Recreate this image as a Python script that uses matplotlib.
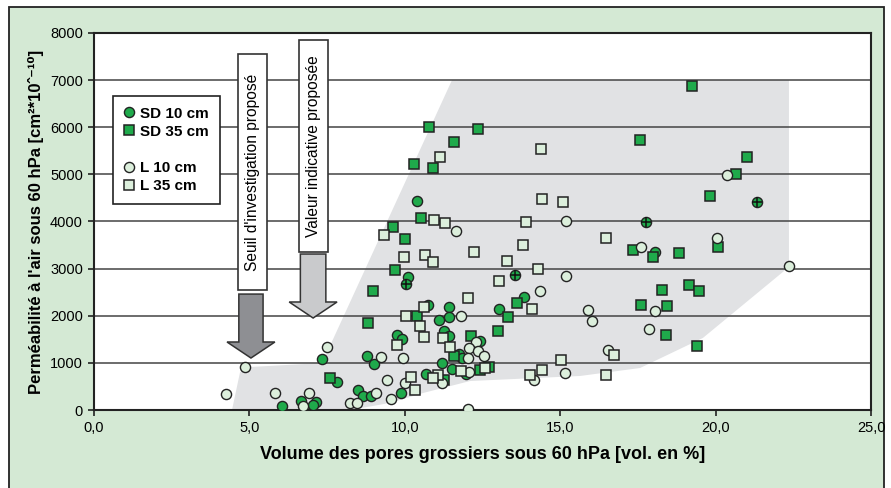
import matplotlib
matplotlib.use("Agg")
import matplotlib.pyplot as plt
import numpy as np
from matplotlib.lines import Line2D
from matplotlib.patches import Polygon, Rectangle

plt.rcParams['font.family'] = ['Liberation Sans', 'DejaVu Sans']

# --- data ---
sd10_x = [10.38, 10.09, 13.84, 18.06, 10.76, 13.03, 11.41, 11.41, 11.10, 9.76, 9.90, 11.27,
          11.41, 12.42, 11.74, 11.85, 11.19, 11.52, 11.97, 10.68, 9.87, 7.34, 8.77, 9.00,
          7.81, 8.49, 8.66, 8.91, 7.13, 7.04, 6.04, 6.66]
sd10_y = [4435, 2829, 2404, 3360, 2228, 2143, 2179, 1980, 1910, 1591, 1500, 1683,
          1577, 1464, 1182, 1110, 1004, 870, 757, 757, 354, 1089, 1146, 976,
          601, 424, 297, 297, 176, 113, 85, 198]

# green circles with a cross
sd10p_x = [10.04, 13.55, 17.75, 21.34]
sd10p_y = [2680, 2858, 3982, 4421]

sd35_x = [10.79, 12.34, 11.58, 10.30, 10.92, 10.53, 9.62, 10.01, 9.67, 8.97, 19.23, 17.56,
          21.01, 20.65, 19.81, 20.07, 17.34, 18.00, 18.81, 19.15, 19.45, 18.27, 17.61, 18.44,
          18.39, 19.39, 13.60, 13.31, 13.01, 10.38, 12.13, 11.59, 12.42, 12.71, 11.27, 8.81, 7.59]
sd35_y = [5999, 5963, 5680, 5227, 5142, 4081, 3883, 3636, 2971, 2525, 6869, 5736,
          5369, 5015, 4548, 3452, 3395, 3254, 3339, 2659, 2532, 2553, 2228, 2200,
          1598, 1365, 2264, 1980, 1676, 2001, 1577, 1146, 849, 919, 637, 1853, 686]

l10_x = [11.65, 14.35, 20.36, 15.18, 20.05, 17.59, 15.19, 22.35, 18.06, 15.91, 16.02, 17.85,
         16.53, 15.15, 14.17, 11.80, 9.93, 12.29, 12.07, 12.37, 12.54, 12.02, 12.08, 10.01,
         11.21, 9.55, 12.04, 7.51, 9.23, 9.44, 9.07, 8.25, 8.45, 6.92, 6.73, 4.87, 5.82, 4.25]
l10_y = [3805, 2532, 4994, 4003, 3650, 3466, 2851, 3063, 2108, 2115, 1882, 1712,
         1273, 785, 637, 2001, 1110, 1450, 1322, 1252, 1152, 1110, 813, 580,
         580, 226, 14, 1330, 1131, 637, 368, 155, 155, 354, 91, 906, 368, 340]

l35_x = [14.38, 11.12, 14.41, 10.93, 11.30, 13.90, 9.33, 13.80, 12.23, 9.96, 10.66, 10.90,
         13.29, 14.30, 13.02, 15.10, 16.46, 14.10, 16.73, 15.03, 14.41, 16.47, 14.03, 12.02,
         10.63, 10.03, 10.49, 10.63, 9.76, 11.22, 11.45, 11.81, 12.58, 10.19, 11.06, 10.92, 10.34]
l35_y = [5538, 5362, 4477, 4032, 3975, 3989, 3713, 3501, 3360, 3247, 3282, 3147,
         3162, 2999, 2737, 4420, 3643, 2143, 1161, 1068, 849, 750, 743, 2384,
         2186, 2001, 1782, 1556, 1386, 1534, 1330, 828, 898, 707, 743, 686, 424]

# grey zone outline
zone_x = [4.44, 4.70, 5.02, 7.34, 11.52, 22.36, 22.36, 19.59, 17.57, 15.64, 12.10, 10.59, 9.52, 8.24]
zone_y = [0, 806, 912, 997, 7003, 7003, 3035, 1528, 891, 722, 615, 361, 149, 0]

green = '#1faa4b'
pale = '#dcefdc'
edge = '#222222'

fig = plt.figure(figsize=(8.91, 4.88), dpi=100)
fig.patch.set_facecolor('white')
# green panel with border (behind the axes)
panel = Rectangle((9/891, -0.01), 875/891, 1 - 7/488 + 0.01, transform=fig.transFigure,
                  facecolor='#d4e9d4', edgecolor='#222222', lw=1.3, zorder=-1)
fig.add_artist(panel)

ax = fig.add_axes([94/891, 1 - 410/488, 777/891, 377/488])
ax.set_facecolor('white')

ax.add_patch(Polygon(np.column_stack([zone_x, zone_y]), closed=True,
                     facecolor='#e1e2e4', edgecolor='none', zorder=0.3))

ax.set_axisbelow(True)
ax.yaxis.grid(True, color='#444444', lw=1.1)

ms = 7.3
ax.plot(sd10_x, sd10_y, 'o', ms=ms, mfc=green, mec=edge, mew=1.0, zorder=3)
ax.plot(sd10p_x, sd10p_y, 'o', ms=ms, mfc=green, mec=edge, mew=1.0, zorder=3)
ax.plot(sd10p_x, sd10p_y, '+', ms=6.5, mec='#111111', mew=1.1, zorder=3.1)
ax.plot(sd35_x, sd35_y, 's', ms=ms - 0.5, mfc=green, mec=edge, mew=1.1, zorder=3)
ax.plot(l10_x, l10_y, 'o', ms=ms, mfc=pale, mec=edge, mew=1.0, zorder=3)
ax.plot(l35_x, l35_y, 's', ms=ms - 0.5, mfc=pale, mec=edge, mew=1.1, zorder=3)

# text boxes + arrows
ax.add_patch(Rectangle((4.63, 2546), 0.94, 5008, facecolor='white', edgecolor='#333333', lw=1.2, zorder=4))
ax.text(5.10, 5050, "Seuil d'investigation proposé", rotation=90, ha='center', va='center',
        fontsize=11.2, zorder=5)
ax.add_patch(Rectangle((6.60, 3352), 0.93, 4499, facecolor='white', edgecolor='#333333', lw=1.2, zorder=4))
ax.text(7.07, 5600, "Valeur indicative proposée", rotation=90, ha='center', va='center',
        fontsize=11.2, zorder=5)

def arrow(xc, half_shaft, half_head, top, base, tip, color):
    pts = [(xc - half_shaft, top), (xc + half_shaft, top), (xc + half_shaft, base),
           (xc + half_head, base), (xc, tip), (xc - half_head, base), (xc - half_shaft, base)]
    ax.add_patch(Polygon(pts, closed=True, facecolor=color, edgecolor='#333333', lw=1.1, zorder=4))

arrow(5.05, 0.39, 0.77, 2460, 1443, 1103, '#8e8f93')
arrow(7.05, 0.41, 0.77, 3310, 2292, 1952, '#c9cacc')

ax.set_xlim(0, 25)
ax.set_ylim(0, 8000)
ax.set_xticks(np.arange(0, 26, 5))
ax.set_yticks(np.arange(0, 8001, 1000))
ax.xaxis.set_major_formatter(plt.FuncFormatter(lambda v, p: f'{v:.1f}'.replace('.', ',')))
ax.tick_params(direction='out', length=4, width=1.2, labelsize=10.5, color='#222222', pad=4)
for s in ax.spines.values():
    s.set_linewidth(1.5)
    s.set_color('#222222')

ax.set_xlabel('Volume des pores grossiers sous 60 hPa [vol. en %]', fontsize=13,
              fontweight='bold', labelpad=8)
ax.set_ylabel("Perméabilité à l'air sous 60 hPa [cm²*10ˆ⁻¹⁰]", fontsize=12,
              fontweight='bold', labelpad=4)

# legend with an empty row between SD and L
handles = [
    Line2D([], [], ls='none', marker='o', ms=ms, mfc=green, mec=edge, mew=1.0),
    Line2D([], [], ls='none', marker='s', ms=ms - 0.5, mfc=green, mec=edge, mew=1.1),
    Line2D([], [], ls='none'),
    Line2D([], [], ls='none', marker='o', ms=ms, mfc=pale, mec=edge, mew=1.0),
    Line2D([], [], ls='none', marker='s', ms=ms - 0.5, mfc=pale, mec=edge, mew=1.1),
]
labels = ['SD 10 cm', 'SD 35 cm', ' ', 'L 10 cm', 'L 35 cm']
leg = ax.legend(handles, labels, loc='upper left', bbox_to_anchor=(19/777, (410 - 96)/377),
                borderaxespad=0, fancybox=False, framealpha=1, edgecolor='#222222',
                prop={'weight': 'bold', 'size': 11}, labelspacing=0.27, handlelength=0.7,
                handletextpad=0.4, borderpad=0.7)
leg.get_frame().set_linewidth(1.2)
leg.set_zorder(6)

fig.savefig('out.png', dpi=100, facecolor=fig.get_facecolor())
